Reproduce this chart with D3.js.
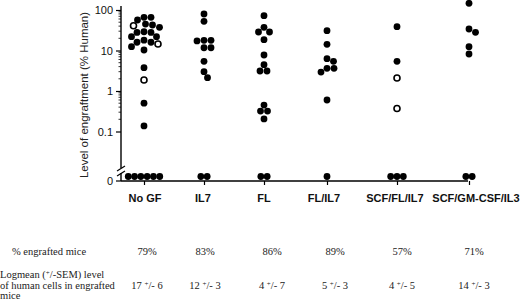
<!DOCTYPE html>
<html>
<head>
<meta charset="utf-8">
<script src="https://cdn.jsdelivr.net/npm/d3@7"></script>
<style>
  html, body { margin: 0; padding: 0; background: #fff; }
  svg { display: block; }
</style>
</head>
<body>
<script>
// Categories (growth factor treatments)
const categories = ["No GF", "IL7", "FL", "FL/IL7", "SCF/FL/IL7", "SCF/GM-CSF/IL3"];

// Engraftment levels (% human), filled dots
const noGF = [66, 66, 56.6, 45, 42.6, 37.4, 29, 28, 28, 22, 22, 18, 16, 16, 12.4, 10.3, 3.76, 0.5, 0.137];
const il7 = [79.6, 52.6, 17.8, 17.8, 17.2, 11.7, 11.7, 5.4, 3.0, 2.13];
const fl = [72.4, 37.4, 28.6, 28.6, 18.5, 7.74, 4.46, 3.12, 3.12, 0.45, 0.32, 0.32, 0.204];
const flIl7 = [30.8, 14.2, 6.28, 5.4, 3.63, 3.63, 2.94, 0.6];
const scfFlIl7 = [38.7, 5.4];
const scfGmIl3 = [146, 34, 28.1, 12.4, 8.2];

// Open circles
const noGFOpen = [41, 14.5, 1.87];
const scfFlIl7Open = [2.1, 0.37];

// Mice without engraftment (plotted at 0)
const zeroCounts = [6, 2, 2, 1, 3, 2];

// Table rows
const pctEngrafted = ["79%", "83%", "86%", "89%", "57%", "71%"];
const logmean = [["17", "6"], ["12", "3"], ["4", "7"], ["5", "3"], ["4", "5"], ["14", "3"]];

const yTicks = [0.1, 1, 10, 100];

const filled = [noGF, il7, fl, flIl7, scfFlIl7, scfGmIl3];
const open = [noGFOpen, [], [], [], scfFlIl7Open, []];

const w = 520, h = 303;
const axisX = 121, axisY = 181, zeroY = 176.5;
const r = 3.4, gap = 6.9;

const svg = d3.select("body").append("svg")
    .attr("width", w)
    .attr("height", h);

// Scales
const x = d3.scaleOrdinal().domain(categories).range([144, 204, 264, 327, 397, 469]);
const labelX = d3.scaleOrdinal().domain(categories).range([145, 203, 264, 324, 395, 476]);
const tableX = d3.scaleOrdinal().domain(categories).range([147, 205, 272, 335, 402, 474]);
const y = d3.scaleLog().domain([0.1, 100]).range([131.5, 10]);

// Y axis (log part)
const yAxis = d3.axisLeft(y)
    .tickValues(yTicks)
    .tickFormat(d3.format("~g"))
    .tickSize(5)
    .tickPadding(3);

const gy = svg.append("g")
    .attr("transform", `translate(${axisX},0)`)
    .call(yAxis);
gy.select(".domain").remove();
gy.selectAll("line").attr("stroke", "#000").attr("stroke-width", 1.2);
gy.selectAll("text")
    .attr("font-family", "Liberation Sans, Arial, sans-serif")
    .attr("font-size", 11)
    .attr("fill", "#111");

// minor log ticks
const minor = [];
[0.1, 1, 10].forEach(d => { for (let k = 2; k <= 9; k++) minor.push(d * k); });
svg.append("g").selectAll("line")
    .data(minor)
    .join("line")
    .attr("x1", axisX - 2.5).attr("x2", axisX)
    .attr("y1", d => y(d)).attr("y2", d => y(d))
    .attr("stroke", "#000").attr("stroke-width", 0.8);

// Y axis line with break
svg.append("line")
    .attr("x1", axisX).attr("x2", axisX)
    .attr("y1", 6).attr("y2", 168)
    .attr("stroke", "#000").attr("stroke-width", 1.4);
svg.append("line")
    .attr("x1", axisX).attr("x2", axisX)
    .attr("y1", 173).attr("y2", axisY)
    .attr("stroke", "#000").attr("stroke-width", 1.4);
[-2.5, 2.5].forEach(o => {
    svg.append("line")
        .attr("x1", axisX - 4).attr("x2", axisX + 4)
        .attr("y1", 171 + o + 2.5).attr("y2", 171 + o - 2.5)
        .attr("stroke", "#000").attr("stroke-width", 1.2);
});

// zero tick
svg.append("line")
    .attr("x1", axisX - 5).attr("x2", axisX)
    .attr("y1", axisY).attr("y2", axisY)
    .attr("stroke", "#000").attr("stroke-width", 1.2);
svg.append("text")
    .attr("x", axisX - 8).attr("y", axisY)
    .attr("dy", "0.35em")
    .attr("text-anchor", "end")
    .attr("font-family", "Liberation Sans, Arial, sans-serif")
    .attr("font-size", 11)
    .attr("fill", "#111")
    .text("0");

// X axis
const xAxis = d3.axisBottom(x).tickSize(4).tickFormat("");
const gx = svg.append("g")
    .attr("transform", `translate(0,${axisY})`)
    .call(xAxis);
gx.select(".domain").remove();
gx.selectAll("line").attr("stroke", "#000").attr("stroke-width", 1.2);
svg.append("line")
    .attr("x1", axisX).attr("x2", 468)
    .attr("y1", axisY).attr("y2", axisY)
    .attr("stroke", "#000").attr("stroke-width", 1.6);

// Y axis title
svg.append("text")
    .attr("transform", `translate(88,95) rotate(-90)`)
    .attr("text-anchor", "middle")
    .attr("font-family", "Liberation Sans, Arial, sans-serif")
    .attr("font-size", 11.5)
    .attr("fill", "#222")
    .text("Level of engraftment (% Human)");

// Place dots so they don't overlap (simple dodge)
function dodge(points) {
    const placed = [];
    points.forEach(p => {
        for (let k = 0; k < 400; k++) {
            const off = (k % 2 ? 1 : -1) * Math.ceil(k / 2) * 0.5;
            const ok = placed.every(q => (q.dx - off) ** 2 + (q.cy - p.cy) ** 2 >= gap * gap);
            if (ok) { p.dx = off; break; }
        }
        placed.push(p);
    });
    return placed;
}

const dots = [];
categories.forEach((c, i) => {
    const pts = filled[i].map(v => ({ cat: c, v, open: false }))
        .concat(open[i].map(v => ({ cat: c, v, open: true })))
        .sort((a, b) => b.v - a.v);
    pts.forEach(p => p.cy = y(p.v));
    dodge(pts).forEach(p => dots.push(p));
    d3.range(zeroCounts[i]).forEach(j => {
        dots.push({ cat: c, v: 0, open: false, cy: zeroY, dx: (j - (zeroCounts[i] - 1) / 2) * 6.3 });
    });
});

svg.append("g").selectAll("circle")
    .data(dots)
    .join("circle")
    .attr("cx", d => x(d.cat) + d.dx)
    .attr("cy", d => d.cy)
    .attr("r", d => d.open ? 3 : r)
    .attr("fill", d => d.open ? "#fff" : "#000")
    .attr("stroke", d => d.open ? "#000" : "none")
    .attr("stroke-width", 1.6);

// Category labels
svg.append("g").selectAll("text")
    .data(categories)
    .join("text")
    .attr("x", d => labelX(d))
    .attr("y", 202)
    .attr("text-anchor", "middle")
    .attr("font-family", "Liberation Sans, Arial, sans-serif")
    .attr("font-weight", "bold")
    .attr("font-size", 11)
    .attr("fill", "#111")
    .text(d => d);

// Table
const serif = "Liberation Serif, Times New Roman, serif";
const fs = 10.5;
svg.append("text")
    .attr("x", 12).attr("y", 255)
    .attr("font-family", serif).attr("font-size", fs).attr("fill", "#222")
    .text("% engrafted mice");

svg.append("g").selectAll("text")
    .data(categories)
    .join("text")
    .attr("x", d => tableX(d))
    .attr("y", 255)
    .attr("text-anchor", "middle")
    .attr("font-family", serif).attr("font-size", fs).attr("fill", "#222")
    .text((d, i) => pctEngrafted[i]);

["Logmean  (+/-SEM) level", "of  human cells in engrafted", "mice"].forEach((t, i) => {
    const tx = svg.append("text")
        .attr("x", 0).attr("y", 278 + i * 10.5)
        .attr("font-family", serif).attr("font-size", fs).attr("fill", "#222");
    if (i === 0) {
        tx.append("tspan").text("Logmean  (");
        tx.append("tspan").attr("font-size", 7).attr("dy", -3).text("+");
        tx.append("tspan").attr("dy", 3).text("/-SEM) level");
    } else {
        tx.text(t);
    }
});

const lm = svg.append("g").selectAll("text")
    .data(categories)
    .join("text")
    .attr("x", d => tableX(d))
    .attr("y", 288.5)
    .attr("text-anchor", "middle")
    .attr("font-family", serif).attr("font-size", fs).attr("fill", "#222");
lm.append("tspan").text((d, i) => logmean[i][0] + " ");
lm.append("tspan").attr("font-size", 7).attr("dy", -3).text("+");
lm.append("tspan").attr("dy", 3).text((d, i) => "/- " + logmean[i][1]);
</script>
</body>
</html>
